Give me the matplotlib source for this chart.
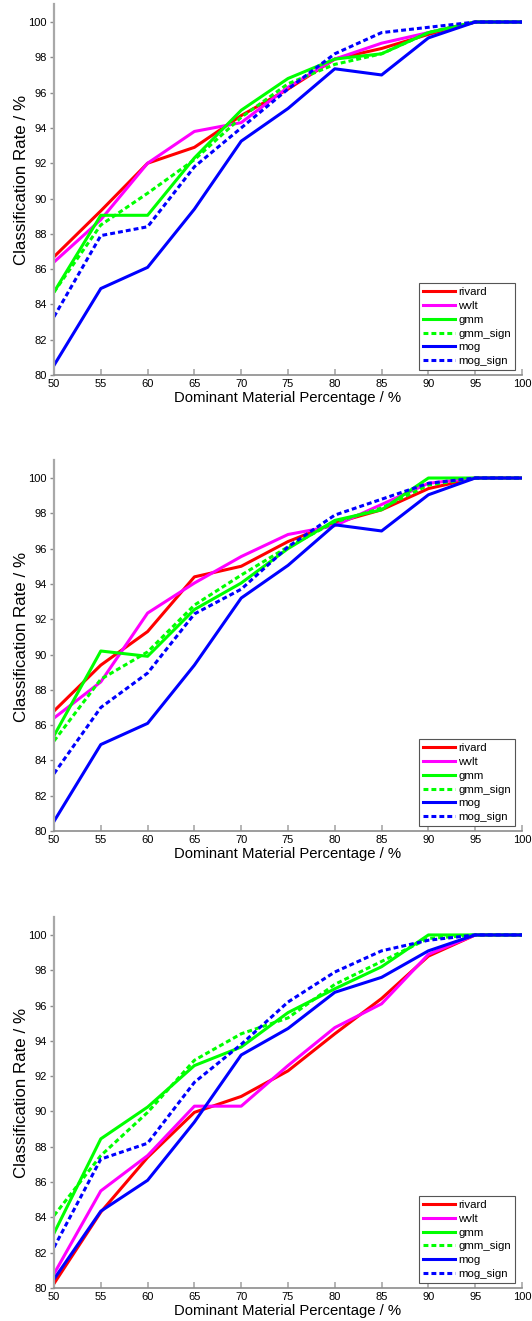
import matplotlib
matplotlib.use("Agg")
import matplotlib.pyplot as plt

plt.rcParams['font.family'] = ['Liberation Sans', 'DejaVu Sans']

# x axis: dominant material percentage
percent = [50, 55, 60, 65, 70, 75, 80, 85, 90, 95, 100]

method_names = ["rivard", "wvlt", "gmm", "gmm_sign", "mog", "mog_sign"]

# panel 1
rivard_1 = [86.7, 89.3, 92.0, 92.9, 94.7, 96.2, 97.9, 98.5, 99.3, 100, 100]
wvlt_1 = [86.4, 88.8, 92.0, 93.8, 94.3, 96.3, 97.9, 98.8, 99.4, 100, 100]
gmm_1 = [84.7, 89.05, 89.05, 92.3, 95.0, 96.8, 97.9, 98.2, 99.4, 100, 100]
gmm_sign_1 = [84.7, 88.5, 90.3, 92.2, 94.6, 96.5, 97.6, 98.2, 99.4, 100, 100]
mog_1 = [80.55, 84.9, 86.1, 89.4, 93.25, 95.1, 97.35, 97.0, 99.1, 100, 100]
mog_sign_1 = [83.3, 87.9, 88.4, 91.8, 94.0, 96.2, 98.2, 99.4, 99.7, 100, 100]

# panel 2
rivard_2 = [86.8, 89.4, 91.3, 94.4, 95.0, 96.4, 97.45, 98.2, 99.4, 100, 100]
wvlt_2 = [86.4, 88.45, 92.35, 94.05, 95.55, 96.8, 97.3, 98.5, 99.7, 100, 100]
gmm_2 = [85.4, 90.2, 89.9, 92.55, 94.05, 96.0, 97.6, 98.2, 100, 100, 100]
gmm_sign_2 = [85.1, 88.6, 90.15, 92.8, 94.5, 96.1, 97.5, 98.3, 99.6, 100, 100]
mog_2 = [80.55, 84.9, 86.1, 89.4, 93.2, 95.05, 97.35, 97.0, 99.05, 100, 100]
mog_sign_2 = [83.25, 87.0, 88.95, 92.3, 93.7, 96.1, 97.9, 98.8, 99.7, 100, 100]

# panel 3
rivard_3 = [80.25, 84.3, 87.4, 89.95, 90.85, 92.3, 94.4, 96.4, 98.8, 100, 100]
wvlt_3 = [80.8, 85.5, 87.5, 90.3, 90.3, 92.6, 94.75, 96.1, 98.9, 100, 100]
gmm_3 = [83.1, 88.45, 90.25, 92.6, 93.65, 95.6, 96.95, 98.2, 100, 100, 100]
gmm_sign_3 = [84.1, 87.5, 89.95, 92.9, 94.4, 95.3, 97.2, 98.5, 99.8, 100, 100]
mog_3 = [80.5, 84.35, 86.1, 89.4, 93.2, 94.7, 96.75, 97.6, 99.1, 100, 100]
mog_sign_3 = [82.3, 87.3, 88.2, 91.65, 93.8, 96.2, 97.9, 99.1, 99.7, 100, 100]

panels = [
    [rivard_1, wvlt_1, gmm_1, gmm_sign_1, mog_1, mog_sign_1],
    [rivard_2, wvlt_2, gmm_2, gmm_sign_2, mog_2, mog_sign_2],
    [rivard_3, wvlt_3, gmm_3, gmm_sign_3, mog_3, mog_sign_3],
]

line_colors = ["#ff0000", "#ff00ff", "#00ff00", "#00ff00", "#0000ff", "#0000ff"]
line_dashed = [False, False, False, True, False, True]

fig = plt.figure(figsize=(5.32, 13.21), dpi=100)

# axes bottoms in figure fraction (top to bottom)
bottoms = [0.7161, 0.3709, 0.0250]

for bottom, series in zip(bottoms, panels):
    ax = fig.add_axes([0.1015, bottom, 0.8797, 0.2806])
    for name, values, color, dashed in zip(method_names, series, line_colors, line_dashed):
        if dashed:
            ax.plot(percent, values, color=color, lw=2.2, label=name,
                    linestyle=(0, (1.6, 1.0)))
        else:
            ax.plot(percent, values, color=color, lw=2.2, label=name)

    ax.set_xlim(50, 100)
    ax.set_ylim(80, 101)
    ax.set_xticks(range(50, 101, 5))
    ax.set_yticks(range(80, 101, 2))
    ax.spines['top'].set_visible(False)
    ax.spines['right'].set_visible(False)
    ax.spines['left'].set_color("#a8a8a8")
    ax.spines['left'].set_linewidth(1.6)
    ax.spines['bottom'].set_color("#8c8c8c")
    ax.spines['bottom'].set_linewidth(1.2)
    ax.tick_params(axis='x', direction='in', length=4, width=1.2,
                   color="#a8a8a8", labelsize=8, pad=3)
    ax.tick_params(axis='y', direction='out', length=3, width=1.0,
                   color="#8c8c8c", labelsize=8, pad=2)
    ax.set_xlabel("Dominant Material Percentage / %", fontsize=10.7, labelpad=1)
    ax.set_ylabel("Classification Rate / %", fontsize=12.2)
    ax.yaxis.set_label_coords(-0.053, 0.525)

    leg = ax.legend(loc='lower right', bbox_to_anchor=(0.985, 0.0135),
                    fontsize=8.2, handlelength=2.8, handletextpad=0.3,
                    labelspacing=0.33, borderpad=0.35, borderaxespad=0,
                    fancybox=False, framealpha=1)
    leg.get_frame().set_edgecolor("#555555")
    leg.get_frame().set_linewidth(0.8)

fig.savefig("out.png", dpi=100)
